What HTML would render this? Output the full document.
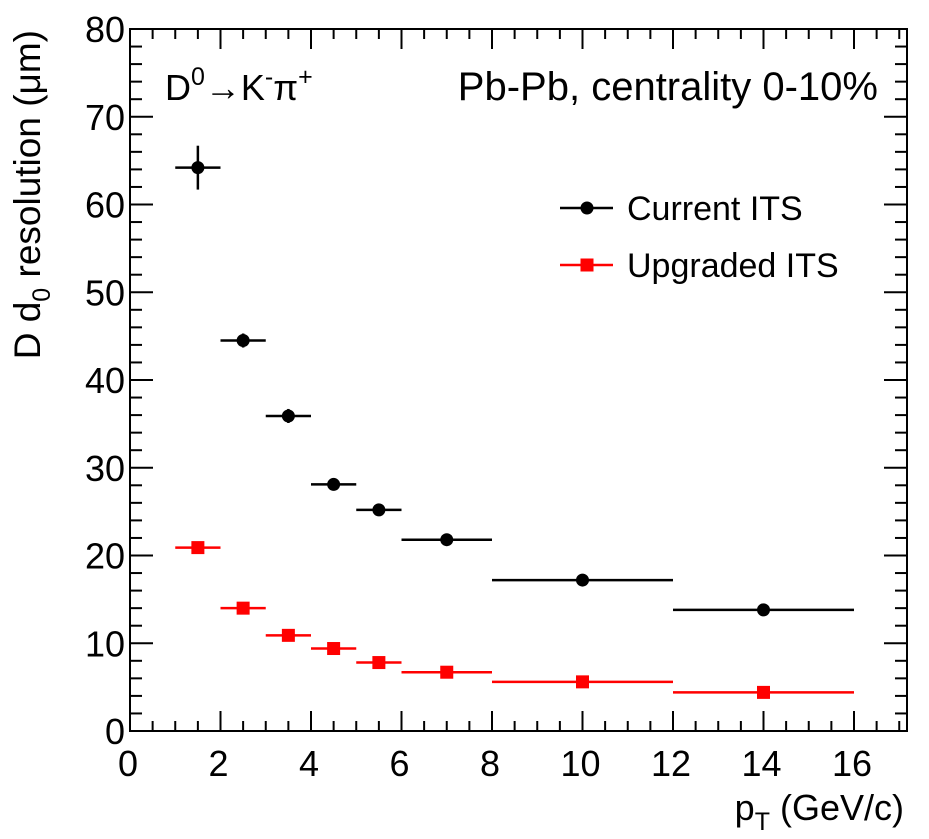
<!DOCTYPE html>
<html><head><meta charset="utf-8"><style>body{margin:0;background:#fff}svg{display:block;font-family:"Liberation Sans",sans-serif}</style></head>
<body>
<svg id="c" width="929" height="839"></svg>
<script>
const xCenters=[1.5,2.5,3.5,4.5,5.5,7,10,14];
const xLow=[1,2,3,4,5,6,8,12];
const xHigh=[2,3,4,5,6,8,12,16];
const currentITS=[64.2,44.5,35.9,28.1,25.2,21.8,17.2,13.8];
const currentErr=[2.5,0.8,0.8,0.5,0.5,0.4,0.4,0.4];
const upgradedITS=[20.9,14.0,10.9,9.4,7.8,6.7,5.6,4.4];
const xTicks=[0,2,4,6,8,10,12,14,16];
const yTicks=[0,10,20,30,40,50,60,70,80];
const X0=130,X1=907,Y0=731,Y1=29;
const sx=v=>X0+v*45.25, sy=v=>Y0-v*(Y0-Y1)/80;
const svg=document.getElementById('c');const NS='http://www.w3.org/2000/svg';
function el(t,a,txt){const e=document.createElementNS(NS,t);for(const k in a)e.setAttribute(k,a[k]);if(txt!==undefined)e.textContent=txt;svg.appendChild(e);return e;}
let f=el('rect',{x:X0,y:Y1,width:X1-X0,height:Y0-Y1,fill:'none',stroke:'#000','stroke-width':2});


for(let v=0;v<=17;v+=0.5){const big=v%2===0;const L=big?20:10;
 el('line',{x1:sx(v),x2:sx(v),y1:Y0,y2:Y0-L,stroke:'#000','stroke-width':2});
 el('line',{x1:sx(v),x2:sx(v),y1:Y1,y2:Y1+L,stroke:'#000','stroke-width':2});}
for(let v=0;v<=80;v+=2){const big=v%10===0;const L=big?23:12;
 el('line',{x1:X0,x2:X0+L,y1:sy(v),y2:sy(v),stroke:'#000','stroke-width':2});
 el('line',{x1:X1,x2:X1-L,y1:sy(v),y2:sy(v),stroke:'#000','stroke-width':2});}
xTicks.forEach(v=>{const t=el('text',{x:sx(v)-2,y:Y0+45,'font-size':36,'text-anchor':'middle'},String(v));
 
 });
yTicks.forEach(v=>{const t=el('text',{x:X0-5,y:sy(v)+13,'font-size':36,'text-anchor':'end'},String(v));
 
 });
let xt=el('text',{x:904,y:820,'font-size':36,'text-anchor':'end'});
xt.innerHTML='p<tspan font-size="25" dy="10">T</tspan><tspan dy="-10"> (GeV/c)</tspan>';


let yt=el('text',{transform:'translate(40,30) rotate(-90)','font-size':37,'text-anchor':'end'});
yt.innerHTML='D d<tspan font-size="25" dy="10">0</tspan><tspan dy="-10"> resolution (μm)</tspan>';


let t1=el('text',{x:165,y:100,'font-size':36});
t1.innerHTML='D<tspan font-size="25" dy="-15">0</tspan><tspan dy="15">→K</tspan><tspan font-size="25" dy="-15">-</tspan><tspan dy="15">π</tspan><tspan font-size="25" dy="-15">+</tspan>';


let t2=el('text',{x:878,y:100,'font-size':40,'text-anchor':'end'},'Pb-Pb, centrality 0-10%');


xCenters.forEach((c,i)=>{
 let h=el('line',{x1:sx(xLow[i]),x2:sx(xHigh[i]),y1:sy(currentITS[i]),y2:sy(currentITS[i]),stroke:'#000','stroke-width':2.5});
 
 
 el('line',{x1:sx(c),x2:sx(c),y1:sy(currentITS[i]+currentErr[i]),y2:sy(currentITS[i]-currentErr[i]),stroke:'#000','stroke-width':2.5});
 let p=el('circle',{cx:sx(c),cy:sy(currentITS[i]),r:6.5,fill:'#000'});
 
 
 let h2=el('line',{x1:sx(xLow[i]),x2:sx(xHigh[i]),y1:sy(upgradedITS[i]),y2:sy(upgradedITS[i]),stroke:'#f00','stroke-width':2.5});
 
 
 let q=el('rect',{x:sx(c)-6.5,y:sy(upgradedITS[i])-6.5,width:13,height:13,fill:'#f00'});
 
 
});
el('line',{x1:560,x2:613,y1:208,y2:208,stroke:'#000','stroke-width':2.5});
el('circle',{cx:587,cy:208,r:6.5,fill:'#000'});
let l1=el('text',{x:627,y:220,'font-size':34},'Current ITS');


el('line',{x1:560,x2:613,y1:265,y2:265,stroke:'#f00','stroke-width':2.5});
el('rect',{x:580.5,y:258.5,width:13,height:13,fill:'#f00'});
let l2=el('text',{x:627,y:277,'font-size':34},'Upgraded ITS');


</script>
</body></html>
